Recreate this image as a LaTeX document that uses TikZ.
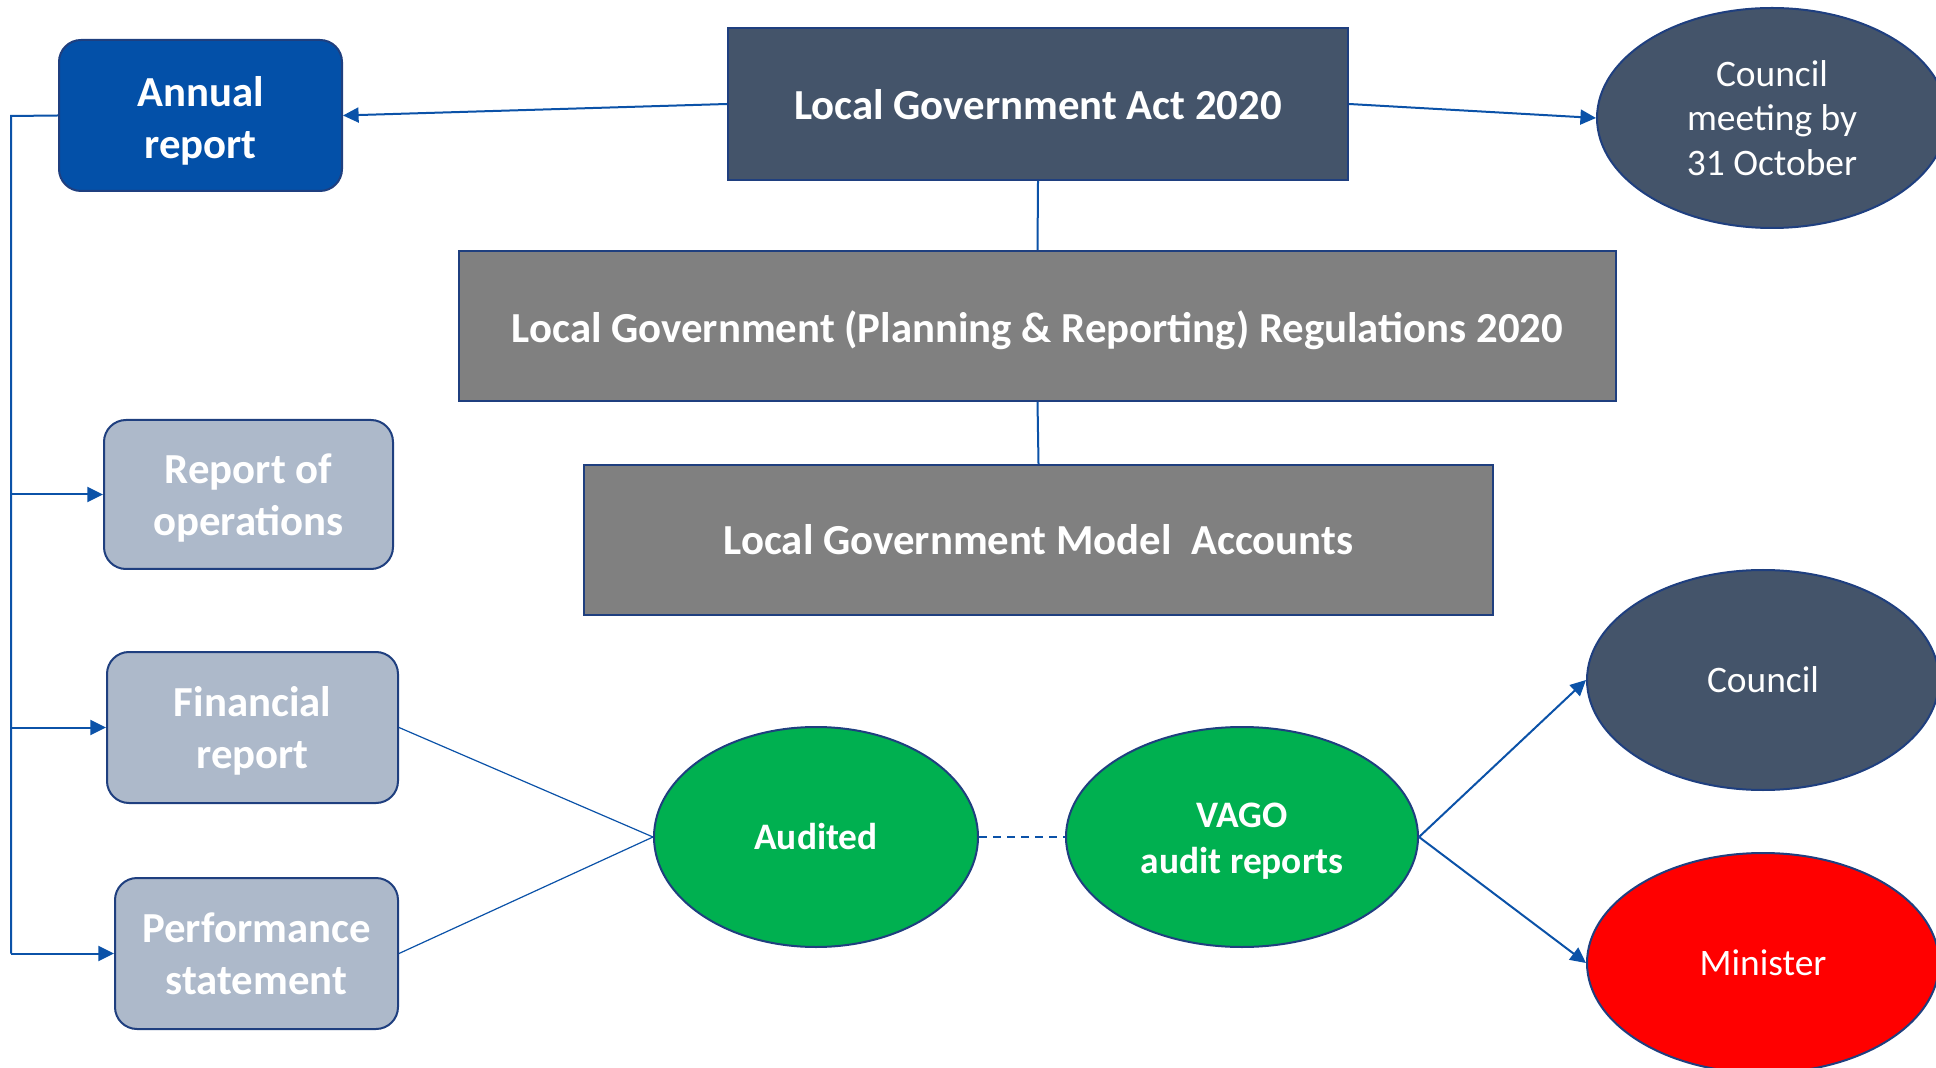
\documentclass[tikz,border=0pt]{standalone}
\usepackage{fontspec}
\setmainfont{Carlito}
\usetikzlibrary{shapes.geometric,arrows.meta}
\definecolor{navy}{HTML}{1F3F7F}
\definecolor{conn}{HTML}{0B52A8}
\definecolor{annualblue}{HTML}{0350A8}
\definecolor{slate}{HTML}{44546A}
\definecolor{greybox}{HTML}{808080}
\definecolor{lightbox}{HTML}{ADB9CA}
\definecolor{greenfill}{HTML}{00B050}
\definecolor{redfill}{HTML}{FF0000}
\newcommand\lowtext[2]{\raisebox{-#1}[\height][\depth]{\begin{tabular}{@{}c@{}}#2\end{tabular}}}
\tikzset{
  boxbase/.style={draw=navy, line width=1pt, text=white, align=center, inner sep=0pt,
    font=\fontsize{21.4}{26}\selectfont\bfseries},
  rbox/.style={boxbase, rounded corners=11pt},
  ellbase/.style={ellipse, draw=navy, line width=1pt, text=white, align=center, inner sep=0pt,
    font=\fontsize{18.7}{22.2}\selectfont},
  ellbold/.style={ellbase, font=\fontsize{18.7}{22.8}\selectfont\bfseries},
  arr/.style={draw=conn, line width=1pt, -{Triangle[length=7.8pt,width=7.5pt]}},
  link/.style={draw=conn, line width=1pt},
  thin/.style={draw=conn, line width=0.6pt},
}
\begin{document}
\begin{tikzpicture}[x=0.5pt,y=-0.5pt]
\useasboundingbox (0,0) rectangle (1936,1068);
\clip (0,0) rectangle (1936,1068);
\node[rbox, fill=annualblue, minimum width=141.5pt, minimum height=75.5pt] (annual) at (200.5,115.5) {\lowtext{3.25pt}{Annual\\report}};
\node[boxbase, fill=slate, minimum width=310pt, minimum height=76pt] (act) at (1038,104) {\lowtext{2.45pt}{Local Government Act 2020}};
\node[ellbase, fill=slate, minimum width=175pt, minimum height=110pt] (meeting) at (1772,118) {Council\\meeting by\\31 October};
\node[boxbase, fill=greybox, minimum width=578.5pt, minimum height=75pt] (regs) at (1037.5,326) {\lowtext{3.05pt}{Local Government (Planning \& Reporting) Regulations 2020}};
\node[boxbase, fill=greybox, minimum width=454.5pt, minimum height=75pt] (model) at (1038.5,540) {Local Government Model\ \ Accounts};
\node[rbox, fill=lightbox, minimum width=144.5pt, minimum height=74.5pt] (ops) at (248.5,494.5) {\lowtext{2.4pt}{Report of\\operations}};
\node[rbox, fill=lightbox, minimum width=145.5pt, minimum height=75.5pt] (fin) at (252.5,727.5) {\lowtext{2.1pt}{Financial\\report}};
\node[rbox, fill=lightbox, minimum width=141.5pt, minimum height=75.5pt] (perf) at (256.5,953.5) {Performance\\statement};
\node[ellbold, fill=greenfill, minimum width=162pt, minimum height=110pt] (audited) at (816,837) {Audited};
\node[ellbold, fill=greenfill, minimum width=176pt, minimum height=110pt] (vago) at (1242,837) {\lowtext{2.3pt}{VAGO\\audit reports}};
\node[ellbase, fill=slate, minimum width=176pt, minimum height=110pt] (council) at (1763,680) {Council};
\node[ellbase, fill=redfill, minimum width=176pt, minimum height=110pt] (minister) at (1763,963) {Minister};

\draw[arr] (act.west) -- (annual.east);
\draw[arr] (act.east) -- (meeting.west);
\draw[link] (act.south) -- (regs.north);
\draw[link] (regs.south) -- (model.north);

\coordinate (lt) at (11,116);
\coordinate (lb) at (11,953.5);
\draw[link] (annual.west) -- (lt) -- (lb);
\draw[arr] (lt |- ops.west) -- (ops.west);
\draw[arr] (lt |- fin.west) -- (fin.west);
\draw[arr] (lb) -- (perf.west);

\draw[thin] (fin.east) -- (audited.west);
\draw[thin] (perf.east) -- (audited.west);
\draw[link, dashed, dash pattern=on 4pt off 3pt] (audited.east) -- (vago.west);
\draw[arr] (vago.east) -- (council.west);
\draw[arr] (vago.east) -- (minister.west);
\end{tikzpicture}
\end{document}
